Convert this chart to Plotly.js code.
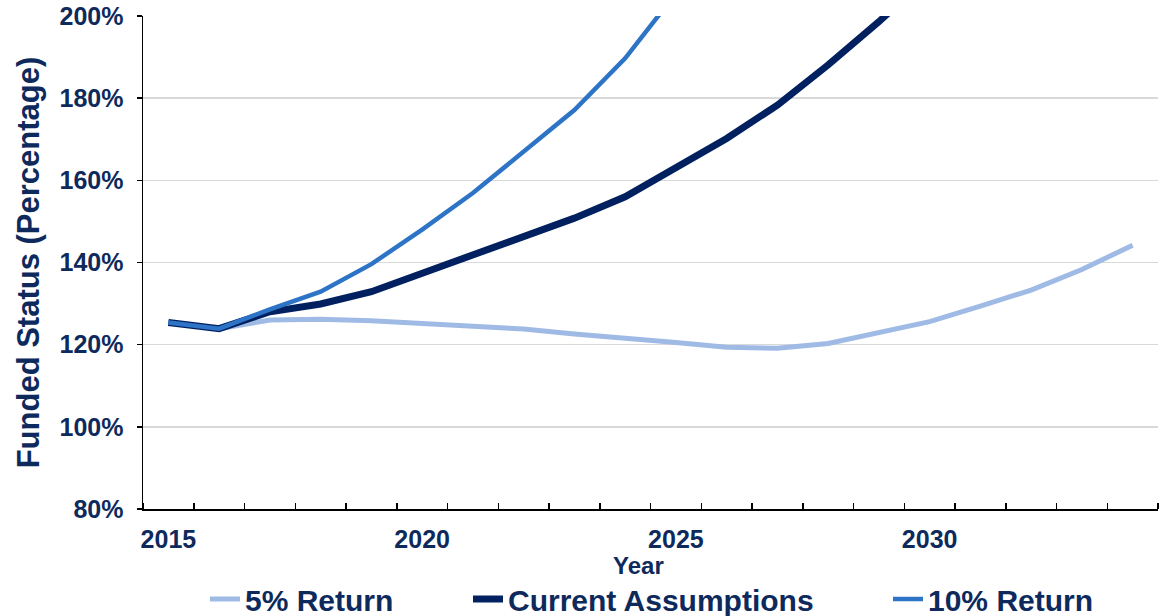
<!DOCTYPE html>
<html>
<head>
<meta charset="utf-8">
<script src="https://cdn.plot.ly/plotly-3.0.1.min.js"></script>
<style>html,body{margin:0;padding:0;background:#fff;}#chart{width:1163px;height:616px;}</style>
</head>
<body>
<div id="chart"></div>
<script>
const years = [2015,2016,2017,2018,2019,2020,2021,2022,2023,2024,2025,2026,2027,2028,2029,2030,2031,2032,2033,2034];
const return5 = [125.4,123.9,126.0,126.2,125.8,125.2,124.7,123.8,122.6,121.4,120.5,119.4,119.1,120.3,122.8,125.6,129.4,133.3,138.3,144.2];
const currentYears = [2015,2016,2017,2018,2019,2020,2021,2022,2023,2024,2025,2026,2027,2028,2029,2030];
const currentAssumptions = [125.4,123.9,128.0,129.9,132.9,137.4,141.9,146.2,150.8,156.0,163.0,170.2,178.3,188.1,198.6,210.0];
const return10Years = [2015,2016,2017,2018,2019,2020,2021,2022,2023,2024,2025];
const return10 = [125.4,123.9,128.6,132.9,139.6,148.0,156.9,167.0,177.1,189.7,205.5];
const seriesNames = ["5% Return","Current Assumptions","10% Return"];
const xTickVals = [2015,2020,2025,2030];
const xTickText = ["2015","2020","2025","2030"];
const yTickVals = [80,100,120,140,160,180,200];
const yTickText = ["80%","100%","120%","140%","160%","180%","200%"];
const xTitle = "Year";
const yTitle = "Funded Status (Percentage)";

const navy = "#0e2a5c";
const fontFam = "Liberation Sans, Arial, sans-serif";

const traces = [
  {x: years, y: return5, name: seriesNames[0], type: "scatter", mode: "lines",
   line: {color: "#9fbbe5", width: 5}, legend: "legend"},
  {x: currentYears, y: currentAssumptions, name: seriesNames[1], type: "scatter", mode: "lines",
   line: {color: "#002060", width: 7}, legend: "legend2"},
  {x: return10Years, y: return10, name: seriesNames[2], type: "scatter", mode: "lines",
   line: {color: "#2e74c6", width: 4.5}, legend: "legend3"}
];

const legendBase = {
  orientation: "h", xref: "container", yref: "container", xanchor: "left", yanchor: "top",
  y: 0.0698, bgcolor: "rgba(0,0,0,0)", borderwidth: 0,
  font: {family: fontFam, size: 30, color: navy, weight: "bold"}
};

const layout = {
  width: 1163, height: 616,
  paper_bgcolor: "#ffffff", plot_bgcolor: "#ffffff",
  margin: {l: 143, r: 5, t: 16, b: 107},
  showlegend: true,
  legend: Object.assign({}, legendBase, {x: 205/1163}),
  legend2: Object.assign({}, legendBase, {x: 468/1163}),
  legend3: Object.assign({}, legendBase, {x: 888/1163}),
  xaxis: {
    range: [2014.5, 2034.5],
    automargin: false,
    tickmode: "array", tickvals: xTickVals, ticktext: xTickText,
    ticks: "", showgrid: false, zeroline: false,
    showline: true, linecolor: "#000000", linewidth: 2,
    ticklabelstandoff: 7,
    tickfont: {family: fontFam, size: 25, color: navy, weight: "bold"},
    minor: {tick0: 2014.5, dtick: 1, ticks: "inside", ticklen: 6, tickwidth: 1.5, tickcolor: "#000000", showgrid: false}
  },
  yaxis: {
    range: [80, 200],
    automargin: false,
    tickmode: "array", tickvals: yTickVals, ticktext: yTickText,
    ticks: "outside", ticklen: 5, tickwidth: 1.5, tickcolor: "#000000",
    showgrid: true, gridcolor: "#d9d9d9", gridwidth: 1.5,
    zeroline: false, showline: true, linecolor: "#000000", linewidth: 1.5,
    ticklabelstandoff: 8,
    tickfont: {family: fontFam, size: 25, color: navy, weight: "bold"},
    title: {text: yTitle, standoff: 10, font: {family: fontFam, size: 31, color: navy, weight: "bold"}}
  },
  annotations: [
    {text: xTitle, xref: "paper", yref: "paper", x: 0.4877, y: -0.1156,
     xanchor: "center", yanchor: "middle", showarrow: false,
     font: {family: fontFam, size: 24, color: navy, weight: "bold"}}
  ]
};

Plotly.newPlot("chart", traces, layout, {displayModeBar: false, staticPlot: true});
</script>
</body>
</html>
